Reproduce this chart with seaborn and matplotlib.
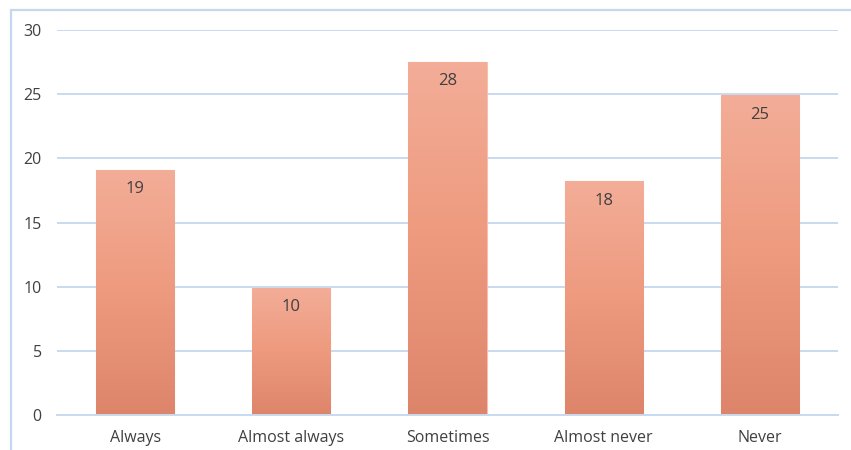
import numpy as np
import pandas as pd
import matplotlib
matplotlib.use("Agg")
import matplotlib.pyplot as plt
from matplotlib.colors import LinearSegmentedColormap
from matplotlib.patches import Rectangle
import seaborn as sns

categories = ["Always", "Almost always", "Sometimes", "Almost never", "Never"]
counts = [19.1, 9.9, 27.5, 18.2, 24.9]
y_ticks = [0, 5, 10, 15, 20, 25, 30]

sns.set_theme(style="white")
plt.rcParams["font.family"] = ["Open Sans", "DejaVu Sans"]

text_color = "#404040"
grid_color = "#C9DAF0"

fig = plt.figure(figsize=(8.51, 4.5), dpi=100)
ax = fig.add_axes([57 / 851, 1 - 415 / 450, (838 - 57) / 851, 385 / 450])

df = pd.DataFrame({"category": categories, "count": counts})
sns.barplot(data=df, x="category", y="count", ax=ax, color="#EE9E84",
            width=0.5, saturation=1, edgecolor="#F5C0B0", linewidth=0.8,
            zorder=2)

# vertical gradient inside each bar: light at the top, darker at the base
grad = LinearSegmentedColormap.from_list(
    "bar_grad", ["#DD856B", "#EE9A7E", "#F3AD98"])
gradient = np.linspace(0, 1, 256).reshape(-1, 1)
for patch in ax.patches:
    x0, y0 = patch.get_x(), patch.get_y()
    w, h = patch.get_width(), patch.get_height()
    im = ax.imshow(gradient, cmap=grad, origin="lower", aspect="auto",
                   extent=[x0, x0 + w, y0, y0 + h], zorder=2.5)
    im.set_clip_path(patch)

for bar, v in zip(ax.patches, counts):
    ax.text(bar.get_x() + bar.get_width() / 2, v - 1.5, f"{v:.0f}",
            ha="center", va="center", fontsize=12, color=text_color,
            zorder=4)

ax.set_xlim(-0.5, 4.5)
ax.set_ylim(0, 30)
ax.set_yticks(y_ticks)
ax.set_yticklabels([str(t) for t in y_ticks])
ax.yaxis.grid(True, color=grid_color, linewidth=1.4, zorder=0)
ax.set_axisbelow(True)
for side in ["top", "right", "left"]:
    ax.spines[side].set_visible(False)
ax.spines["bottom"].set_color(grid_color)
ax.spines["bottom"].set_linewidth(1.4)
ax.tick_params(axis="both", length=0, labelsize=11.5, colors=text_color)
ax.tick_params(axis="y", pad=11)
ax.tick_params(axis="x", pad=11)
ax.set_xlabel("")
ax.set_ylabel("")

# outer chart frame (left and top edges inside the canvas)
fig.patches.append(Rectangle((11 / 851, -0.05), 1.2, 1 - 10 / 450 + 0.05,
                             transform=fig.transFigure, fill=False,
                             edgecolor="#C5D7EE", linewidth=1.6))

fig.savefig("out.png", dpi=100)
